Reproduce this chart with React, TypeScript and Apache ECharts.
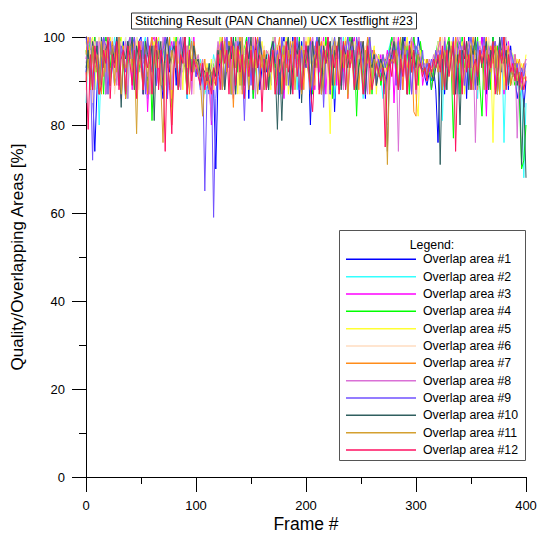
import React, { useEffect, useRef } from "react";
import * as echarts from "echarts";

// Frame step between stored samples
const FRAME_STEP = 2;

const seriesNames = [
  "Overlap area #1", "Overlap area #2", "Overlap area #3", "Overlap area #4",
  "Overlap area #5", "Overlap area #6", "Overlap area #7", "Overlap area #8",
  "Overlap area #9", "Overlap area #10", "Overlap area #11", "Overlap area #12",
];

const seriesColors = [
  "#0000ff", "#33ffff", "#ff00ff", "#00ff00", "#ffff33", "#ffdcc0",
  "#ff8c1a", "#da70d6", "#7050ff", "#2f5f5f", "#d4a030", "#ff1060",
];

const xTickLabels = [0, 100, 200, 300, 400];
const yTickLabels = [0, 20, 40, 60, 80, 100];

const area1 = [
  92, 97, 100, 88, 74, 88, 99, 96, 100, 87, 98, 100, 94, 89, 91, 100, 96, 99, 86, 98,
  100, 95, 89, 92, 99, 100, 87, 98, 90, 96, 100, 88, 97, 99, 91, 86, 98, 100, 92, 96,
  99, 89, 100, 97, 92, 98, 86, 100, 93, 96, 91, 94, 88, 93, 90, 92, 87, 94, 89, 70,
  91, 95, 88, 98, 100, 96, 87, 99, 97, 100, 89, 98, 93, 100, 86, 99, 91, 97, 100, 88,
  93, 96, 92, 95, 89, 99, 100, 92, 87, 97, 100, 93, 98, 88, 100, 94, 97, 86, 99, 96,
  93, 98, 80, 94, 97, 100, 88, 91, 98, 96, 100, 87, 97, 83, 95, 99, 100, 89, 97, 100,
  95, 99, 88, 97, 100, 94, 98, 86, 100, 93, 97, 95, 89, 96, 90, 94, 87, 93, 96, 99,
  100, 89, 98, 93, 97, 100, 87, 99, 92, 98, 88, 100, 97, 93, 91, 89, 92, 90, 93, 88,
  76, 92, 95, 87, 96, 93, 97, 90, 88, 98, 100, 95, 99, 86, 100, 93, 98, 89, 92, 97,
  100, 96, 87, 98, 95, 100, 89, 94, 99, 92, 96, 100, 88, 98, 93, 91, 86, 89, 92, 84,
  90,
];
const area2 = [
  85, 96, 100, 98, 88, 97, 80, 95, 99, 100, 87, 98, 96, 100, 92, 89, 99, 95, 100, 86,
  97, 100, 88, 99, 96, 92, 98, 100, 86, 93, 97, 99, 89, 100, 96, 91, 98, 87, 100, 97,
  94, 99, 88, 100, 93, 97, 86, 98, 100, 94, 96, 92, 95, 90, 87, 89, 94, 91, 96, 93,
  97, 100, 89, 98, 94, 99, 87, 100, 93, 97, 100, 88, 98, 94, 97, 100, 86, 93, 99, 95,
  96, 88, 97, 95, 94, 100, 97, 87, 98, 95, 99, 89, 100, 94, 97, 99, 88, 98, 96, 100,
  95, 98, 87, 99, 96, 100, 93, 89, 95, 99, 94, 97, 100, 86, 93, 98, 95, 100, 88, 94,
  99, 96, 100, 88, 97, 93, 86, 95, 99, 97, 89, 96, 93, 95, 91, 86, 94, 96, 98, 100,
  95, 98, 88, 100, 93, 97, 99, 87, 100, 96, 98, 89, 97, 95, 93, 91, 94, 88, 95, 93,
  96, 94, 81, 97, 88, 99, 93, 98, 96, 87, 97, 100, 95, 98, 89, 100, 96, 99, 86, 97,
  95, 98, 100, 88, 97, 96, 99, 87, 97, 100, 76, 95, 98, 89, 96, 92, 90, 86, 88, 68,
  85,
];
const area3 = [
  95, 99, 88, 97, 100, 94, 87, 96, 93, 100, 97, 89, 99, 95, 98, 100, 86, 96, 99, 94,
  98, 88, 100, 96, 92, 99, 87, 97, 83, 94, 99, 100, 89, 93, 98, 95, 100, 86, 97, 99,
  94, 97, 100, 88, 98, 95, 92, 99, 87, 100, 93, 95, 90, 94, 88, 92, 91, 80, 93, 90,
  96, 99, 88, 100, 97, 93, 98, 86, 100, 92, 97, 99, 89, 96, 100, 93, 87, 95, 97, 100,
  94, 97, 88, 93, 96, 98, 100, 89, 97, 92, 86, 95, 99, 93, 88, 100, 95, 98, 87, 96,
  99, 93, 97, 100, 88, 98, 92, 96, 100, 87, 97, 99, 93, 98, 89, 100, 96, 92, 99, 86,
  94, 98, 100, 88, 97, 93, 99, 87, 100, 94, 97, 92, 89, 93, 96, 91, 94, 97, 88, 99,
  85, 96, 100, 93, 88, 95, 99, 94, 87, 100, 96, 93, 98, 89, 92, 94, 93, 88, 91, 96,
  98, 94, 88, 100, 95, 99, 93, 87, 100, 94, 98, 96, 89, 99, 95, 100, 88, 93, 98, 96,
  100, 94, 82, 97, 95, 99, 88, 98, 96, 100, 87, 97, 99, 95, 92, 96, 91, 88, 90, 93,
  95,
];
const area4 = [
  97, 93, 99, 88, 100, 92, 98, 96, 87, 100, 97, 93, 99, 89, 91, 98, 100, 95, 86, 93,
  99, 96, 88, 100, 92, 97, 95, 99, 87, 98, 81, 95, 100, 97, 89, 96, 99, 94, 98, 84,
  95, 100, 88, 97, 99, 94, 87, 100, 92, 98, 95, 93, 91, 94, 89, 93, 90, 92, 94, 91,
  98, 95, 100, 88, 97, 99, 96, 87, 100, 92, 98, 89, 97, 100, 93, 96, 86, 94, 97, 100,
  95, 92, 96, 88, 97, 100, 93, 98, 87, 99, 94, 97, 100, 89, 93, 98, 95, 100, 88, 94,
  98, 95, 100, 87, 97, 96, 99, 94, 88, 100, 95, 97, 86, 99, 96, 100, 89, 98, 95, 97,
  100, 94, 97, 82, 95, 99, 88, 93, 98, 100, 87, 97, 93, 96, 89, 92, 95, 93, 97, 100,
  96, 99, 88, 97, 100, 95, 98, 87, 97, 100, 96, 89, 99, 95, 92, 95, 93, 88, 92, 96,
  99, 95, 97, 88, 98, 100, 94, 77, 96, 99, 87, 100, 93, 97, 99, 88, 98, 96, 100, 89,
  82, 97, 94, 99, 88, 100, 93, 98, 87, 97, 100, 94, 96, 89, 91, 89, 93, 86, 70, 72,
  80,
];
const area5 = [
  99, 95, 98, 100, 88, 97, 100, 96, 94, 99, 87, 100, 95, 98, 93, 89, 100, 94, 98, 97,
  94, 99, 88, 100, 95, 93, 98, 96, 100, 87, 97, 99, 95, 100, 89, 97, 98, 95, 99, 86,
  100, 96, 94, 99, 88, 100, 93, 98, 95, 97, 94, 96, 92, 95, 91, 94, 90, 95, 88, 94,
  96, 100, 97, 88, 99, 95, 100, 93, 98, 87, 100, 94, 97, 99, 89, 98, 100, 93, 97, 96,
  99, 94, 97, 96, 88, 98, 100, 94, 97, 99, 95, 100, 87, 93, 98, 100, 94, 89, 95, 99,
  96, 100, 94, 98, 89, 97, 100, 93, 99, 96, 94, 78, 97, 100, 95, 88, 93, 97, 100, 95,
  98, 94, 97, 100, 95, 99, 93, 88, 96, 100, 95, 98, 87, 96, 93, 95, 92, 96, 94, 98,
  100, 95, 88, 93, 99, 96, 100, 94, 98, 95, 86, 82, 97, 94, 95, 93, 92, 94, 95, 97,
  94, 98, 95, 100, 88, 93, 99, 96, 100, 94, 97, 99, 87, 98, 93, 100, 96, 94, 89, 99,
  95, 98, 100, 94, 96, 76, 99, 93, 97, 100, 88, 98, 94, 97, 96, 93, 95, 91, 94, 92,
  96,
];
const area6 = [
  88, 94, 97, 85, 99, 95, 100, 88, 97, 99, 94, 98, 100, 87, 92, 97, 99, 94, 100, 89,
  93, 98, 95, 100, 88, 94, 99, 96, 92, 98, 100, 87, 97, 93, 99, 96, 89, 100, 97, 95,
  98, 93, 100, 88, 94, 99, 97, 95, 100, 87, 96, 94, 91, 82, 90, 93, 88, 92, 95, 90,
  97, 94, 99, 96, 100, 88, 98, 95, 97, 100, 87, 99, 96, 93, 98, 100, 89, 97, 94, 99,
  96, 98, 88, 97, 95, 100, 94, 98, 96, 87, 99, 97, 95, 100, 89, 98, 96, 99, 93, 97,
  100, 95, 98, 88, 97, 99, 96, 100, 93, 98, 87, 97, 100, 94, 99, 96, 89, 98, 95, 100,
  94, 97, 99, 88, 100, 93, 96, 98, 94, 87, 95, 93, 96, 94, 92, 96, 93, 80, 95, 98,
  97, 100, 94, 88, 95, 99, 93, 97, 100, 96, 87, 98, 95, 93, 94, 92, 95, 93, 96, 94,
  99, 96, 100, 94, 88, 95, 98, 93, 99, 96, 100, 87, 97, 95, 98, 100, 89, 97, 96, 99,
  95, 98, 88, 100, 97, 93, 99, 96, 87, 98, 95, 100, 97, 94, 89, 95, 90, 94, 91, 93,
  92,
];
const area7 = [
  96, 100, 88, 98, 95, 99, 94, 87, 100, 92, 98, 96, 99, 89, 97, 100, 95, 98, 86, 99,
  97, 94, 100, 88, 93, 99, 95, 98, 87, 97, 100, 94, 98, 89, 93, 99, 97, 95, 100, 80,
  95, 99, 88, 97, 100, 94, 98, 87, 93, 99, 95, 92, 94, 91, 95, 89, 93, 92, 90, 94,
  98, 96, 100, 88, 97, 99, 95, 84, 98, 94, 100, 87, 93, 98, 95, 99, 89, 94, 100, 96,
  93, 97, 88, 92, 96, 99, 94, 97, 100, 87, 98, 93, 96, 99, 89, 100, 97, 95, 98, 88,
  99, 96, 100, 88, 98, 95, 97, 99, 87, 96, 100, 95, 98, 89, 97, 100, 96, 93, 99, 86,
  96, 100, 93, 98, 88, 97, 99, 94, 100, 87, 93, 97, 94, 95, 93, 96, 94, 92, 97, 95,
  99, 94, 97, 100, 88, 98, 93, 96, 99, 83, 82, 97, 95, 94, 92, 95, 93, 91, 94, 96,
  97, 100, 88, 98, 95, 99, 93, 87, 100, 96, 94, 98, 89, 99, 93, 97, 100, 94, 88, 96,
  93, 97, 100, 88, 98, 94, 99, 96, 87, 97, 100, 95, 98, 89, 92, 96, 93, 95, 91, 94,
  90,
];
const area8 = [
  94, 98, 100, 88, 97, 93, 99, 96, 100, 87, 97, 99, 95, 98, 89, 100, 96, 94, 99, 86,
  100, 95, 98, 88, 97, 99, 94, 96, 100, 87, 98, 95, 97, 99, 89, 100, 96, 93, 98, 88,
  97, 93, 99, 88, 100, 94, 98, 95, 87, 97, 94, 96, 92, 95, 90, 93, 89, 81, 92, 94,
  99, 95, 88, 100, 94, 98, 96, 87, 99, 97, 95, 100, 89, 98, 96, 93, 100, 86, 97, 99,
  95, 88, 97, 96, 94, 98, 100, 87, 93, 99, 97, 94, 100, 89, 98, 93, 97, 99, 88, 100,
  94, 98, 88, 100, 93, 97, 99, 87, 98, 94, 100, 96, 89, 99, 97, 95, 100, 88, 98, 96,
  99, 95, 97, 88, 100, 96, 98, 94, 87, 99, 95, 93, 96, 94, 92, 95, 94, 96, 93, 97,
  100, 96, 74, 97, 95, 99, 88, 98, 100, 96, 87, 97, 95, 93, 94, 92, 95, 93, 96, 94,
  97, 99, 88, 100, 94, 98, 96, 87, 97, 100, 95, 98, 89, 96, 99, 93, 97, 76, 95, 98,
  96, 100, 88, 98, 95, 97, 99, 87, 96, 100, 94, 98, 89, 97, 93, 96, 77, 94, 90, 93,
  95,
];
const area9 = [
  100, 96, 93, 72, 95, 99, 88, 94, 100, 98, 87, 99, 93, 97, 100, 89, 98, 96, 92, 99,
  95, 98, 100, 88, 97, 93, 99, 87, 100, 95, 92, 98, 89, 99, 94, 97, 100, 86, 98, 96,
  99, 94, 88, 100, 95, 98, 87, 96, 99, 94, 91, 93, 90, 94, 65, 88, 91, 92, 59, 86,
  94, 97, 99, 88, 100, 93, 98, 96, 87, 99, 97, 95, 81, 96, 100, 89, 98, 95, 97, 100,
  96, 94, 88, 93, 95, 99, 94, 97, 87, 100, 96, 98, 89, 97, 99, 95, 100, 88, 97, 93,
  98, 95, 99, 88, 97, 100, 95, 98, 84, 96, 99, 87, 97, 100, 95, 98, 89, 99, 96, 100,
  95, 98, 88, 100, 96, 99, 93, 87, 95, 100, 94, 96, 89, 95, 92, 96, 93, 95, 97, 94,
  98, 95, 99, 88, 100, 93, 97, 95, 87, 94, 98, 96, 93, 97, 91, 94, 92, 95, 93, 97,
  94, 97, 88, 99, 93, 98, 96, 100, 87, 97, 99, 95, 89, 93, 97, 100, 96, 88, 99, 95,
  97, 100, 95, 88, 93, 97, 99, 87, 96, 100, 95, 89, 93, 97, 95, 92, 94, 90, 93, 91,
  94,
];
const area10 = [
  93, 97, 88, 99, 94, 98, 87, 100, 93, 97, 99, 89, 98, 94, 100, 96, 84, 97, 95, 99,
  96, 100, 88, 98, 95, 97, 87, 99, 96, 94, 98, 81, 97, 95, 99, 88, 97, 100, 94, 96,
  98, 95, 88, 93, 97, 100, 87, 96, 92, 98, 94, 95, 91, 93, 92, 90, 94, 89, 93, 91,
  97, 94, 99, 88, 93, 98, 95, 100, 87, 97, 99, 93, 89, 98, 95, 100, 88, 97, 93, 99,
  95, 92, 96, 88, 97, 99, 93, 79, 95, 81, 94, 97, 100, 87, 93, 98, 96, 99, 85, 97,
  94, 98, 88, 99, 93, 97, 100, 87, 98, 94, 96, 99, 89, 97, 95, 100, 88, 98, 96, 93,
  97, 100, 95, 88, 93, 96, 99, 87, 97, 95, 93, 96, 89, 92, 95, 93, 91, 74, 94, 96,
  99, 95, 88, 93, 100, 96, 87, 98, 95, 97, 93, 96, 94, 92, 93, 91, 94, 92, 90, 93,
  95, 71, 94, 97, 88, 99, 95, 98, 87, 96, 80, 97, 95, 99, 88, 98, 96, 100, 89, 97,
  93, 96, 99, 88, 97, 95, 98, 87, 100, 96, 94, 97, 89, 93, 91, 94, 89, 92, 71, 86,
  68,
];
const area11 = [
  90, 95, 88, 98, 92, 96, 87, 99, 91, 97, 95, 89, 98, 96, 92, 100, 87, 97, 93, 95,
  98, 92, 96, 78, 99, 93, 88, 95, 91, 96, 87, 98, 93, 97, 89, 76, 94, 96, 88, 97,
  94, 98, 88, 96, 95, 93, 87, 94, 99, 92, 95, 93, 90, 82, 91, 93, 88, 92, 90, 89,
  93, 97, 88, 99, 92, 96, 87, 98, 93, 97, 89, 100, 92, 96, 88, 98, 93, 97, 87, 92,
  96, 88, 95, 91, 94, 97, 87, 96, 92, 95, 98, 89, 97, 94, 99, 88, 96, 95, 87, 97,
  95, 92, 88, 94, 96, 93, 98, 87, 92, 97, 94, 89, 93, 99, 95, 88, 97, 94, 96, 87,
  97, 94, 88, 92, 98, 95, 87, 97, 94, 96, 89, 95, 93, 91, 94, 92, 90, 71, 93, 95,
  94, 97, 88, 96, 92, 98, 87, 93, 97, 94, 91, 96, 93, 92, 93, 91, 94, 92, 93, 95,
  92, 96, 88, 97, 95, 92, 98, 87, 96, 93, 97, 89, 92, 96, 94, 98, 88, 95, 92, 97,
  95, 88, 97, 94, 92, 96, 98, 87, 95, 97, 94, 89, 96, 93, 91, 94, 90, 92, 88, 91,
  90,
];
const area12 = [
  92, 79, 96, 88, 98, 93, 87, 89, 97, 94, 100, 86, 96, 93, 99, 88, 95, 97, 87, 98,
  94, 89, 97, 86, 99, 95, 88, 96, 93, 98, 87, 95, 100, 88, 97, 94, 74, 96, 89, 78,
  93, 98, 88, 96, 94, 100, 87, 97, 90, 95, 93, 91, 89, 94, 88, 92, 90, 87, 93, 89,
  96, 88, 99, 94, 97, 87, 100, 95, 89, 98, 92, 96, 86, 99, 91, 97, 88, 100, 93, 96,
  83, 95, 88, 96, 92, 97, 87, 91, 98, 95, 88, 99, 92, 96, 87, 100, 91, 97, 88, 93,
  98, 94, 88, 83, 93, 99, 87, 92, 97, 94, 100, 88, 96, 93, 98, 87, 92, 99, 88, 97,
  93, 97, 88, 95, 99, 94, 87, 92, 98, 93, 88, 91, 94, 92, 90, 93, 75, 92, 95, 91,
  97, 93, 88, 95, 91, 96, 87, 98, 92, 97, 88, 93, 94, 91, 93, 90, 94, 92, 95, 93,
  96, 92, 98, 88, 97, 91, 95, 99, 74, 93, 97, 87, 100, 92, 96, 88, 93, 95, 91, 97,
  94, 98, 88, 96, 93, 99, 87, 91, 97, 94, 100, 88, 96, 92, 94, 90, 93, 89, 92, 88,
  91,
];

const allAreas = [
  area1, area2, area3, area4, area5, area6,
  area7, area8, area9, area10, area11, area12,
];

const FONT = "Liberation Sans, Arial, sans-serif";

export default function App() {
  const ref = useRef<HTMLDivElement>(null);

  useEffect(() => {
    document.body.style.margin = "0";
    const chart = echarts.init(ref.current!, null, { renderer: "svg" });

    const series = allAreas.map((vals, k) => ({
      name: seriesNames[k],
      type: "line",
      data: vals.map((v, i) => [i * FRAME_STEP, v]),
      showSymbol: false,
      symbol: "none",
      clip: false,
      lineStyle: { color: seriesColors[k], width: 1 },
      itemStyle: { color: seriesColors[k] },
      emphasis: { disabled: true },
      silent: true,
    }));

    const option: any = {
      animation: false,
      backgroundColor: "#ffffff",
      textStyle: { fontFamily: FONT },
      grid: {
        left: 86, right: 12, top: 37, bottom: 57,
        containLabel: false, outerBoundsMode: "none",
      },
      xAxis: {
        type: "value",
        min: 0,
        max: 400,
        interval: 100,
        axisLine: { show: true, onZero: false, lineStyle: { color: "#000", width: 1 } },
        axisTick: { show: true, inside: false, length: 15, lineStyle: { color: "#000", width: 1 } },
        minorTick: { show: true, splitNumber: 2, length: 7, lineStyle: { color: "#000", width: 1 } },
        axisLabel: {
          fontSize: 13, color: "#000", margin: 22, fontFamily: FONT,
          customValues: xTickLabels,
        },
        splitLine: { show: false },
        minorSplitLine: { show: false },
      },
      yAxis: {
        type: "value",
        min: 0,
        max: 100,
        interval: 20,
        name: "Quality/Overlapping Areas [%]",
        nameLocation: "middle",
        nameGap: 60,
        nameTextStyle: { fontSize: 17, color: "#000", fontFamily: FONT },
        axisLine: { show: true, onZero: false, lineStyle: { color: "#000", width: 1 } },
        axisTick: { show: true, inside: false, length: 14, lineStyle: { color: "#000", width: 1 } },
        minorTick: { show: true, splitNumber: 2, length: 7, lineStyle: { color: "#000", width: 1 } },
        axisLabel: {
          fontSize: 13, color: "#000", margin: 21, fontFamily: FONT,
          customValues: yTickLabels,
        },
        splitLine: { show: false },
        minorSplitLine: { show: false },
      },
      legend: {
        show: true,
        z: 20,
        orient: "vertical",
        left: 346,
        top: 252.3,
        padding: 0,
        icon: "path://M0,0H70V1.5H0Z",
        itemWidth: 70,
        itemHeight: 14,
        itemGap: 3.34,
        selectedMode: false,
        data: seriesNames,
        itemStyle: { borderWidth: 0 },
        textStyle: { fontSize: 12.3, color: "#000", lineHeight: 14, fontFamily: FONT, padding: [0, 0, 0, 2] },
      },
      graphic: [
        {
          type: "rect",
          z: 3,
          shape: { x: 339.5, y: 230.5, width: 186, height: 230 },
          style: { fill: "#ffffff", stroke: "#555", lineWidth: 1 },
          silent: true,
        },
        {
          type: "text",
          z: 21,
          x: 432,
          y: 245,
          style: {
            text: "Legend:", fontSize: 12.3, fontFamily: FONT, fill: "#000",
            align: "center", verticalAlign: "middle",
          },
          silent: true,
        },
        {
          type: "rect",
          z: 3,
          shape: { x: 131.5, y: 13, width: 285, height: 16 },
          style: { fill: "#ffffff", stroke: "#333", lineWidth: 1 },
          silent: true,
        },
        {
          type: "text",
          z: 21,
          x: 274,
          y: 21,
          style: {
            text: "Stitching Result (PAN Channel) UCX Testflight #23",
            fontSize: 12.4, fontFamily: FONT, fill: "#000",
            align: "center", verticalAlign: "middle",
          },
          silent: true,
        },
        {
          type: "text",
          z: 21,
          x: 306,
          y: 524,
          style: {
            text: "Frame #", fontSize: 17.5, fontFamily: FONT, fill: "#000",
            align: "center", verticalAlign: "middle",
          },
          silent: true,
        },
      ],
      series,
    };

    chart.setOption(option);
    return () => chart.dispose();
  }, []);

  return (
    <div
      ref={ref}
      style={{ position: "absolute", left: 0, top: 0, width: 538, height: 534 }}
    />
  );
}
